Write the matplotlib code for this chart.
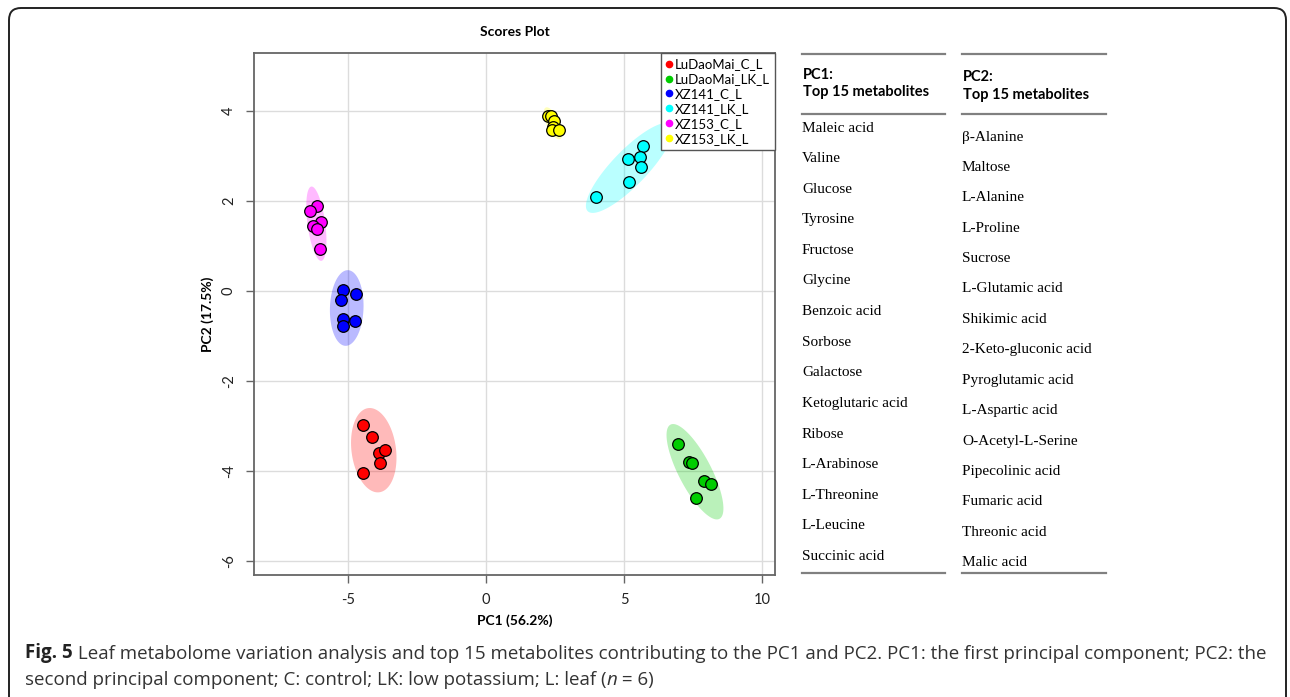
import numpy as np
import matplotlib
matplotlib.use("Agg")
import matplotlib.pyplot as plt
from matplotlib.patches import Polygon, FancyBboxPatch
from matplotlib.lines import Line2D

# PCA scores per group (PC1, PC2), six replicates each
groups = ["LuDaoMai_C_L", "LuDaoMai_LK_L", "XZ141_C_L", "XZ141_LK_L", "XZ153_C_L", "XZ153_LK_L"]
colors = ["#FF0000", "#00CD00", "#0000FF", "#00FFFF", "#FF00FF", "#FFFF00"]

pc1_ludaomai_c = [-4.46, -4.14, -3.87, -3.65, -3.85, -4.45]
pc2_ludaomai_c = [-2.98, -3.25, -3.59, -3.54, -3.81, -4.05]
pc1_ludaomai_lk = [6.95, 7.36, 7.46, 7.88, 8.16, 7.61]
pc2_ludaomai_lk = [-3.39, -3.79, -3.81, -4.22, -4.28, -4.60]
pc1_xz141_c = [-5.20, -4.70, -5.24, -5.20, -4.76, -5.20]
pc2_xz141_c = [0.03, -0.06, -0.19, -0.61, -0.66, -0.77]
pc1_xz141_lk = [5.69, 5.13, 5.58, 5.63, 5.19, 3.97]
pc2_xz141_lk = [3.23, 2.93, 2.97, 2.76, 2.43, 2.10]
pc1_xz153_c = [-6.12, -6.38, -5.99, -6.27, -6.12, -6.02]
pc2_xz153_c = [1.89, 1.79, 1.54, 1.44, 1.38, 0.94]
pc1_xz153_lk = [2.26, 2.34, 2.47, 2.43, 2.38, 2.66]
pc2_xz153_lk = [3.88, 3.90, 3.78, 3.65, 3.58, 3.58]

pc1_scores = [pc1_ludaomai_c, pc1_ludaomai_lk, pc1_xz141_c, pc1_xz141_lk, pc1_xz153_c, pc1_xz153_lk]
pc2_scores = [pc2_ludaomai_c, pc2_ludaomai_lk, pc2_xz141_c, pc2_xz141_lk, pc2_xz153_c, pc2_xz153_lk]

pc1_top15 = ["Maleic acid", "Valine", "Glucose", "Tyrosine", "Fructose", "Glycine",
             "Benzoic acid", "Sorbose", "Galactose", "Ketoglutaric acid", "Ribose",
             "L-Arabinose", "L-Threonine", "L-Leucine", "Succinic acid"]
pc2_top15 = ["\u03b2-Alanine", "Maltose", "L-Alanine", "L-Proline", "Sucrose", "L-Glutamic acid",
             "Shikimic acid", "2-Keto-gluconic acid", "Pyroglutamic acid", "L-Aspartic acid",
             "O-Acetyl-L-Serine", "Pipecolinic acid", "Fumaric acid", "Threonic acid", "Malic acid"]

W, H = 1290, 697
SANS = ["Lato", "DejaVu Sans"]
SERIF = ["Liberation Serif", "DejaVu Serif"]
CAP = ["Open Sans", "DejaVu Sans"]
plt.rcParams["axes.unicode_minus"] = False


def conf_ellipse(x, y, n=200):
    # 95% confidence region from the sample covariance
    x = np.asarray(x)
    y = np.asarray(y)
    vals, vecs = np.linalg.eigh(np.cov(x, y))
    t = np.linspace(0, 2 * np.pi, n)
    circ = np.stack([np.cos(t), np.sin(t)])
    pts = vecs @ (np.sqrt(vals)[:, None] * circ) * np.sqrt(5.991)
    return np.column_stack([pts[0] + x.mean(), pts[1] + y.mean()])


def fx(px):
    return px / W


def fy(py):
    return 1 - py / H


fig = plt.figure(figsize=(W / 100, H / 100), dpi=100)
ax = fig.add_axes([fx(254), fy(575), fx(775) - fx(254), fy(53) - fy(575)])

for xs, ys, c in zip(pc1_scores, pc2_scores, colors):
    ax.add_patch(Polygon(conf_ellipse(xs, ys), closed=True, facecolor=c,
                         alpha=0.27, edgecolor="none", zorder=1))
for xs, ys, c in zip(pc1_scores, pc2_scores, colors):
    ax.scatter(xs, ys, s=70, c=c, edgecolors="black", linewidths=0.9, zorder=3)

ax.set_xlim(-8.41, 10.47)
ax.set_ylim(-6.31, 5.29)
ax.set_xticks([-5, 0, 5, 10])
ax.set_yticks([-6, -4, -2, 0, 2, 4])
ax.grid(True, color="#dcdcdc", linewidth=1.0, zorder=0)
ax.set_axisbelow(True)
for sp in ax.spines.values():
    sp.set_color("#666666")
    sp.set_linewidth(1.3)
ax.tick_params(direction="out", length=6, width=1, color="#666666", pad=7,
               labelsize=10.5, labelcolor="#222222")
for lab in ax.get_xticklabels() + ax.get_yticklabels():
    lab.set_family(SANS)
plt.setp(ax.get_yticklabels(), rotation=90, va="center")

ax.set_xlabel("PC1 (56.2%)", fontsize=10, fontweight="bold", family=SANS, labelpad=5)
ax.set_ylabel("PC2 (17.5%)", fontsize=10, fontweight="bold", family=SANS, labelpad=6)
ax.set_title("Scores Plot", fontsize=10, fontweight="bold", family=SANS, pad=12)

handles = [Line2D([], [], marker="o", linestyle="none", markersize=4.5,
                  markerfacecolor=c, markeredgecolor=c) for c in colors]
leg = ax.legend(handles, groups, loc="upper right", borderaxespad=0, fancybox=False,
                framealpha=1, edgecolor="#555555", handlelength=0.5, handletextpad=0.15,
                labelspacing=0.22, borderpad=0.4, prop={"family": SANS, "size": 9.5})
leg.get_frame().set_linewidth(1.0)
leg.set_zorder(5)

# metabolite tables on the right
rule = "#808080"
for x0, x1 in [(802, 945), (962, 1106)]:
    for yy in (54, 114, 573):
        fig.add_artist(Line2D([fx(x0), fx(x1)], [fy(yy), fy(yy)], color=rule,
                              linewidth=1.6, transform=fig.transFigure))

fig.text(fx(803), fy(75), "PC1:", fontsize=10.5, fontweight="bold", family=SANS, va="center")
fig.text(fx(803), fy(92), "Top 15 metabolites", fontsize=10.5, fontweight="bold", family=SANS, va="center")
fig.text(fx(963), fy(77), "PC2:", fontsize=10.5, fontweight="bold", family=SANS, va="center")
fig.text(fx(963), fy(95), "Top 15 metabolites", fontsize=10.5, fontweight="bold", family=SANS, va="center")

for i, name in enumerate(pc1_top15):
    fig.text(fx(802), fy(128 + i * 30.6), name, fontsize=11, family=SERIF, va="center")
for i, name in enumerate(pc2_top15):
    fig.text(fx(962), fy(137 + i * 30.4), name, fontsize=11, family=SERIF, va="center")

# caption
cap_size = 13.5
cap1 = fig.text(fx(25), fy(653), "Fig. 5", fontsize=cap_size, fontweight="bold", family=CAP,
                va="center", color="#222222")
ax.annotate(" Leaf metabolome variation analysis and top 15 metabolites contributing to the PC1 "
            "and PC2. PC1: the first principal component; PC2: the",
            xy=(1, 0), xycoords=cap1, va="bottom", fontsize=cap_size, family=CAP,
            color="#333333", annotation_clip=False)
cap2 = fig.text(fx(25), fy(680), "second principal component; C: control; LK: low potassium; "
                "L: leaf (", fontsize=cap_size, family=CAP, va="center", color="#333333")
cap3 = ax.annotate("n", xy=(1, 0), xycoords=cap2, va="bottom", fontsize=cap_size, family=CAP,
                   style="italic", color="#333333", annotation_clip=False)
ax.annotate(" = 6)", xy=(1, 0), xycoords=cap3, va="bottom", fontsize=cap_size, family=CAP,
            color="#333333", annotation_clip=False)

# rounded frame around the whole figure, in inches from the lower-left corner
fig.add_artist(FancyBboxPatch((0.09, -0.2), 12.0 - 0.09 + 0.86, (H - 8) / 100 + 0.2,
                              boxstyle="round,pad=0,rounding_size=0.12",
                              transform=fig.dpi_scale_trans, facecolor="none",
                              edgecolor="#222222", linewidth=1.4))

fig.savefig("out.png", dpi=100)
